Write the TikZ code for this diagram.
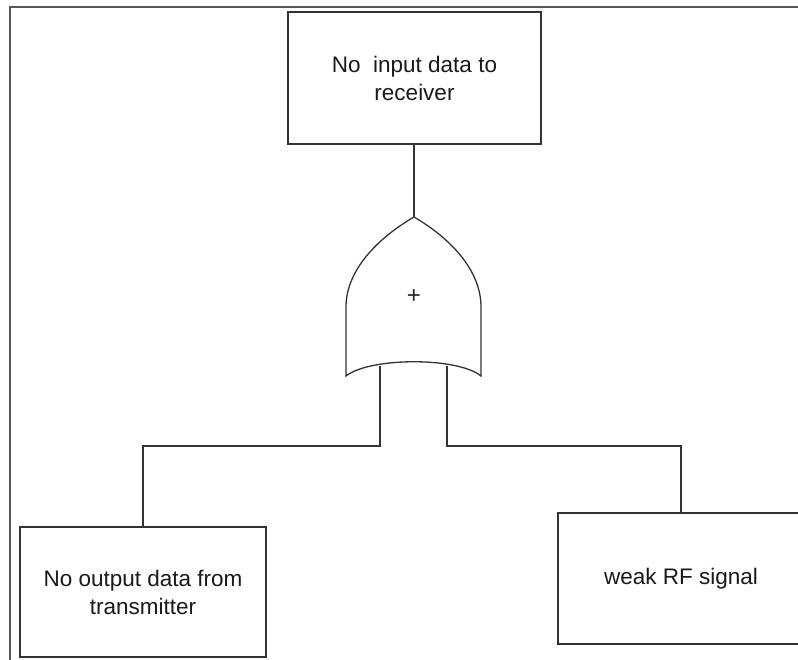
\documentclass[tikz,border=0pt]{standalone}
\usepackage{fontspec}
\setmainfont{Liberation Sans}
\begin{document}
\begin{tikzpicture}[x=1pt,y=-1pt,
  ln/.style={draw=black!80,line width=1.3pt},
  event/.style={ln,rectangle,inner sep=0pt,align=center,text=black!90,
    font=\fontsize{22.5}{28}\selectfont},
  wire/.style={ln,line join=miter}]
\useasboundingbox (0,0) rectangle (798,660);

% page frame
\draw[draw=black!65,line width=1.2pt] (10,660) -- (10,7) -- (798,7);

% events
\node[event,minimum width=253pt,minimum height=132pt] (top) at (414.5,78)
  {No\ \ input data to\\receiver};
\node[event,minimum width=246pt,minimum height=130pt] (left) at (143,592)
  {No output data from\\transmitter};
\node[event,minimum width=246pt,minimum height=131pt] (right) at (681,578.5)
  {weak RF signal};

% OR gate
\coordinate (gout) at (414,217);
\coordinate (gin1) at (380,365.5);
\coordinate (gin2) at (447,365.5);
\draw[ln,line join=miter] (gout)
  .. controls (378,238) and (346,270) .. (346,307) -- (346,376)
  .. controls (370,357) and (458,357) .. (481,376) -- (481,307)
  .. controls (481,270) and (450,238) .. (gout) -- cycle;
\node[text=black!85,font=\fontsize{24}{24}\selectfont,inner sep=0pt] (plus) at (414,297) {+};

% connectors
\draw[wire] (top.south -| gout) -- (gout);
\draw[wire] (gin1) -- (380,446) -| (left.north);
\draw[wire] (gin2) -- (447,446) -| (right.north);
\end{tikzpicture}
\end{document}
